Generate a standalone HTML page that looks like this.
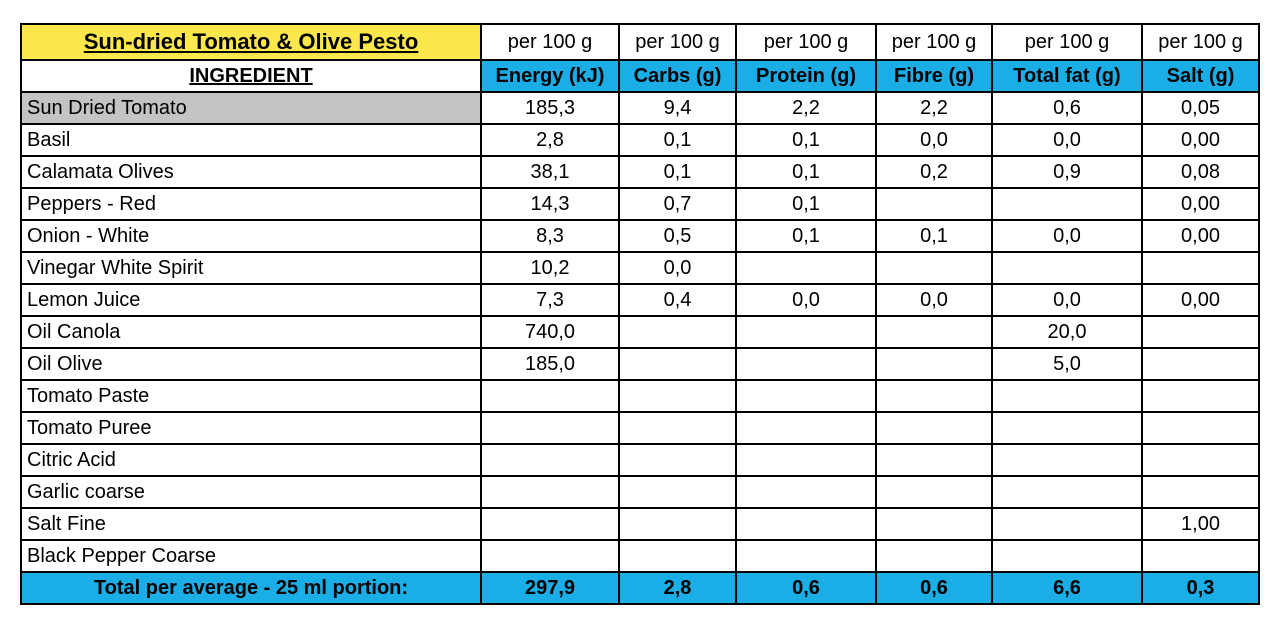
<!DOCTYPE html>
<html><head><meta charset="utf-8"><style>
body{margin:0;background:#fff;width:1280px;height:620px;overflow:hidden;}
table{position:absolute;left:20px;top:23px;border-collapse:collapse;font-family:"Liberation Sans",sans-serif;font-size:20px;color:#000;table-layout:fixed;}
td{border:2px solid #000;padding:0 0 0 5px;height:30px;line-height:28px;white-space:nowrap;overflow:hidden;}
td.c{text-align:center;padding:0;}
.y{background:#FCE84C;font-weight:bold;text-decoration:underline;font-size:22px;}
.b{background:#1BAEE6;font-weight:bold;}
.g{background:#C4C4C4;}
.h1 td{height:34px;}
.t td{font-weight:bold;background:#1BAEE6;}
</style></head><body>
<table>
<colgroup><col style="width:460px"><col style="width:138px"><col style="width:117px"><col style="width:140px"><col style="width:116px"><col style="width:150px"><col style="width:117px"></colgroup>
<tr class="h1"><td class="c y">Sun-dried Tomato &amp; Olive Pesto</td><td class="c">per 100 g</td><td class="c">per 100 g</td><td class="c">per 100 g</td><td class="c">per 100 g</td><td class="c">per 100 g</td><td class="c">per 100 g</td></tr>
<tr><td class="c" style="font-weight:bold;text-decoration:underline">INGREDIENT</td><td class="c b">Energy (kJ)</td><td class="c b">Carbs (g)</td><td class="c b">Protein (g)</td><td class="c b">Fibre (g)</td><td class="c b">Total fat (g)</td><td class="c b">Salt (g)</td></tr>
<tr><td class="g">Sun Dried Tomato</td><td class="c">185,3</td><td class="c">9,4</td><td class="c">2,2</td><td class="c">2,2</td><td class="c">0,6</td><td class="c">0,05</td></tr>
<tr><td>Basil</td><td class="c">2,8</td><td class="c">0,1</td><td class="c">0,1</td><td class="c">0,0</td><td class="c">0,0</td><td class="c">0,00</td></tr>
<tr><td>Calamata Olives</td><td class="c">38,1</td><td class="c">0,1</td><td class="c">0,1</td><td class="c">0,2</td><td class="c">0,9</td><td class="c">0,08</td></tr>
<tr><td>Peppers - Red</td><td class="c">14,3</td><td class="c">0,7</td><td class="c">0,1</td><td></td><td></td><td class="c">0,00</td></tr>
<tr><td>Onion - White</td><td class="c">8,3</td><td class="c">0,5</td><td class="c">0,1</td><td class="c">0,1</td><td class="c">0,0</td><td class="c">0,00</td></tr>
<tr><td>Vinegar White Spirit</td><td class="c">10,2</td><td class="c">0,0</td><td></td><td></td><td></td><td></td></tr>
<tr><td>Lemon Juice</td><td class="c">7,3</td><td class="c">0,4</td><td class="c">0,0</td><td class="c">0,0</td><td class="c">0,0</td><td class="c">0,00</td></tr>
<tr><td>Oil Canola</td><td class="c">740,0</td><td></td><td></td><td></td><td class="c">20,0</td><td></td></tr>
<tr><td>Oil Olive</td><td class="c">185,0</td><td></td><td></td><td></td><td class="c">5,0</td><td></td></tr>
<tr><td>Tomato Paste</td><td></td><td></td><td></td><td></td><td></td><td></td></tr>
<tr><td>Tomato Puree</td><td></td><td></td><td></td><td></td><td></td><td></td></tr>
<tr><td>Citric Acid</td><td></td><td></td><td></td><td></td><td></td><td></td></tr>
<tr><td>Garlic coarse</td><td></td><td></td><td></td><td></td><td></td><td></td></tr>
<tr><td>Salt Fine</td><td></td><td></td><td></td><td></td><td></td><td class="c">1,00</td></tr>
<tr><td>Black Pepper Coarse</td><td></td><td></td><td></td><td></td><td></td><td></td></tr>
<tr class="t"><td class="c">Total per average - 25 ml portion:</td><td class="c">297,9</td><td class="c">2,8</td><td class="c">0,6</td><td class="c">0,6</td><td class="c">6,6</td><td class="c">0,3</td></tr>
</table>
</body></html>
